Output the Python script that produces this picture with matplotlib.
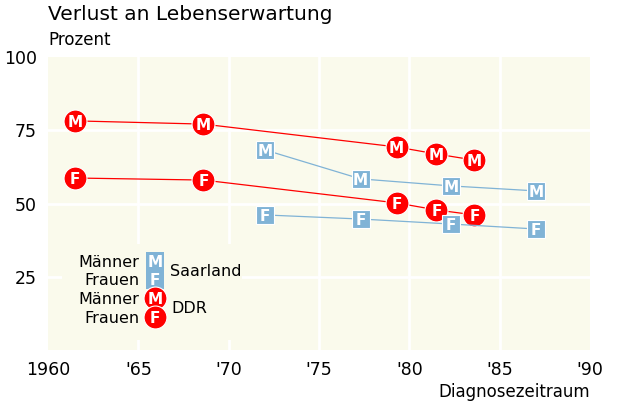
import matplotlib
matplotlib.use("Agg")
import matplotlib.pyplot as plt

# data
ddr_years = [1961.5, 1968.6, 1979.3, 1981.5, 1983.6]
ddr_men = [78.2, 77.1, 69.3, 66.9, 64.8]
ddr_women = [58.7, 58.0, 50.2, 47.8, 46.1]
saar_years = [1972.0, 1977.3, 1982.3, 1987.0]
saar_men = [68.3, 58.4, 56.0, 54.3]
saar_women = [46.1, 44.7, 43.0, 41.3]
xticks = [1960, 1965, 1970, 1975, 1980, 1985, 1990]
xticklabels = ["1960", "'65", "'70", "'75", "'80", "'85", "'90"]
yticks = [25, 50, 75, 100]

RED = "#ff0000"
BLUE = "#80b3d6"
BG = "#fafaec"
FONT = "DejaVu Sans"
plt.rcParams['font.family'] = FONT

fig = plt.figure(figsize=(6.18, 4.05), dpi=100)
ax = fig.add_axes([48/618, 55/405, 542/618, 293/405])
ax.set_facecolor(BG)
ax.set_xlim(1960, 1990)
ax.set_ylim(0, 100)
for s in ax.spines.values():
    s.set_visible(False)
ax.set_xticks(xticks)
ax.set_xticklabels(xticklabels, fontsize=12.5)
ax.set_yticks(yticks)
ax.set_yticklabels([str(v) for v in yticks], fontsize=12.5)
ax.tick_params(length=0, pad=8)
for x in xticks[1:-1]:
    ax.axvline(x, color="white", lw=2, zorder=1)
for y in yticks[:-1]:
    ax.axhline(y, color="white", lw=2, zorder=1)

LET = 11

def series(xs, ys, color, marker, ms, letter, z):
    ax.plot(xs, ys, color=color, lw=0.9, zorder=z)
    ax.plot(xs, ys, ls="none", marker=marker, ms=ms, mfc=color, mec="white",
            mew=0.8, zorder=z + 0.1)
    for x, y in zip(xs, ys):
        ax.text(x, y, letter, color="white", fontsize=LET, fontweight="bold",
                ha="center", va="center_baseline", zorder=z + 0.2)

series(ddr_years, ddr_men, RED, "o", 16.5, "M", 3)
series(ddr_years, ddr_women, RED, "o", 16.5, "F", 3)
series(saar_years, saar_men, BLUE, "s", 13.5, "M", 4)
series(saar_years, saar_women, BLUE, "s", 13.5, "F", 4)

# legend (axes coordinates)
T = ax.transAxes
def ax_xy(px, py):
    return ((px - 48) / 542, (348 - py) / 293)

ax.add_patch(plt.Rectangle(ax_xy(62, 338), 180 / 542, 96 / 293,
                           transform=T, color=BG, zorder=2, lw=0))
leg = [("Männer", "M", "s", BLUE, 259), ("Frauen", "F", "s", BLUE, 277),
       ("Männer", "M", "o", RED, 296), ("Frauen", "F", "o", RED, 315)]
ax.add_patch(plt.Rectangle(ax_xy(146, 287), 18 / 542, 37 / 293,
                           transform=T, color=BLUE, zorder=5, lw=0))
for lab, let, mk, col, py in leg:
    x, y = ax_xy(155, py)
    if mk == "o":
        ax.plot([x], [y], marker="o", ms=16.5, mfc=col, mec="white", mew=0.8,
                transform=T, zorder=5, clip_on=False)
    ax.text(x, y, let, color="white", fontsize=LET, fontweight="bold",
            ha="center", va="center_baseline", transform=T, zorder=6)
    tx, _ = ax_xy(139, py)
    ax.text(tx, y, lab, fontsize=11.5, ha="right", va="center_baseline",
            transform=T, zorder=6)
x, y = ax_xy(170, 268)
ax.text(x, y, "Saarland", fontsize=11.5, ha="left", va="center_baseline",
        transform=T, zorder=6)
x, y = ax_xy(171, 305)
ax.text(x, y, "DDR", fontsize=11.5, ha="left", va="center_baseline",
        transform=T, zorder=6)

fig.text(48/618, 1 - 15/405, "Verlust an Lebenserwartung", fontsize=14.5,
         ha="left", va="center")
fig.text(48/618, 1 - 40/405, "Prozent", fontsize=12, ha="left", va="center")
fig.text(590/618, 1 - 392/405, "Diagnosezeitraum", fontsize=12, ha="right",
         va="center")

fig.savefig("out.png", dpi=100)
